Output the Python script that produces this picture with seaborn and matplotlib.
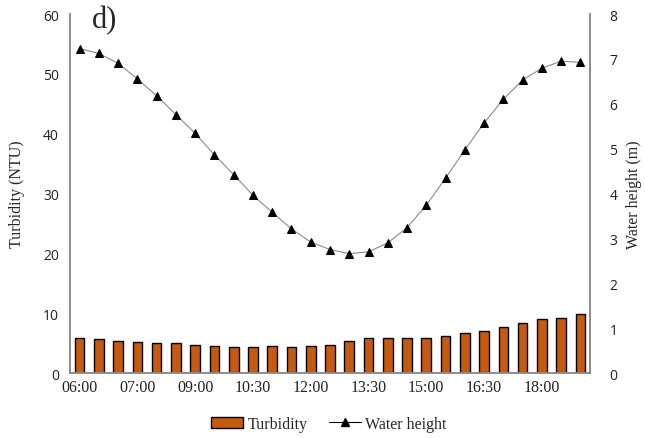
import numpy as np
import pandas as pd
import matplotlib
matplotlib.use("Agg")
import matplotlib.pyplot as plt
import seaborn as sns
from matplotlib.patches import Patch
from matplotlib.lines import Line2D

times = ["06:00", "06:20", "06:40", "07:00", "07:40", "08:20", "09:00", "09:30", "10:00",
         "10:30", "11:00", "11:30", "12:00", "12:30", "13:00", "13:30", "14:00", "14:30",
         "15:00", "15:30", "16:00", "16:30", "17:00", "17:30", "18:00", "18:30", "19:00"]
turbidity = [5.8, 5.6, 5.35, 5.2, 5.0, 5.0, 4.75, 4.5, 4.3, 4.3, 4.5, 4.3, 4.5, 4.75,
             5.35, 5.8, 5.8, 5.8, 5.8, 6.2, 6.65, 7.0, 7.7, 8.3, 8.95, 9.15, 9.8]
water_height = [7.23, 7.12, 6.90, 6.55, 6.18, 5.76, 5.34, 4.86, 4.42, 3.96, 3.58, 3.21,
                2.92, 2.75, 2.66, 2.70, 2.90, 3.24, 3.74, 4.34, 4.97, 5.57, 6.10, 6.53,
                6.79, 6.95, 6.92]
shown_ticks = ["06:00", "07:00", "09:00", "10:30", "12:00", "13:30", "15:00", "16:30", "18:00"]

df = pd.DataFrame({"time": times, "turbidity": turbidity, "water": water_height})
df["idx"] = np.arange(len(df))

sns.set_style("white")
serif = ["Liberation Serif", "DejaVu Serif"]
sansf = ["Open Sans", "DejaVu Sans"]

fig = plt.figure(figsize=(6.45, 4.39), dpi=100)
ax = fig.add_axes([70/645, 1 - 374/439, 520/645, 359/439])

bar_color = "#C55A11"
sns.barplot(data=df, x="time", y="turbidity", ax=ax, color=bar_color,
            edgecolor="black", linewidth=1.0, width=0.5, saturation=1)
ax.set_xlim(-0.5, len(times) - 0.5)
ax.set_ylim(0, 60)
ax.set_yticks(np.arange(0, 61, 10))
ax.set_yticklabels([str(v) for v in range(0, 61, 10)], fontfamily=sansf, fontsize=10, color="#222222")
tick_pos = [times.index(t) for t in shown_ticks]
ax.set_xticks(tick_pos)
ax.set_xticklabels(shown_ticks, fontfamily=serif, fontsize=11.5, color="#222222")
ax.set_xlabel("")
ax.set_ylabel("Turbidity (NTU)", fontfamily=serif, fontsize=11.5, labelpad=13)
ax.tick_params(axis="y", length=0, pad=8)
ax.tick_params(axis="x", length=0, pad=4)

ax2 = ax.twinx()
sns.lineplot(data=df, x="idx", y="water", ax=ax2, color="#8a8a8a", linewidth=0.8,
             marker="^", markersize=5.5, markerfacecolor="black", markeredgecolor="black")
ax2.set_ylim(0, 8)
ax2.set_yticks(np.arange(0, 9, 1))
ax2.set_yticklabels([str(v) for v in range(0, 9)], fontfamily=sansf, fontsize=10, color="#222222")
ax2.set_ylabel("Water height (m)", fontfamily=serif, fontsize=11.5, labelpad=6)
ax2.tick_params(axis="y", length=0, pad=14)
ax2.set_xlim(-0.5, len(times) - 0.5)

for a in (ax, ax2):
    a.spines["top"].set_visible(False)
    for s in ("left", "right", "bottom"):
        a.spines[s].set_color("#8c8c8c")
        a.spines[s].set_linewidth(1.2)

ax.text(0.043, 0.985, "d)", transform=ax.transAxes, fontfamily=serif, fontsize=22,
        va="center", ha="left")

handles = [Patch(facecolor=bar_color, edgecolor="black", linewidth=1.0),
           Line2D([0], [0], color="black", linewidth=0.8, marker="^", markersize=5.5,
                  markerfacecolor="black")]
fig.legend(handles, ["Turbidity", "Water height"], loc="center", bbox_to_anchor=(0.51, 0.032),
           ncol=2, frameon=False, prop={"family": serif, "size": 11.5},
           handlelength=2.0, handletextpad=0.3, columnspacing=1.3)

fig.savefig("out.png", dpi=100)
